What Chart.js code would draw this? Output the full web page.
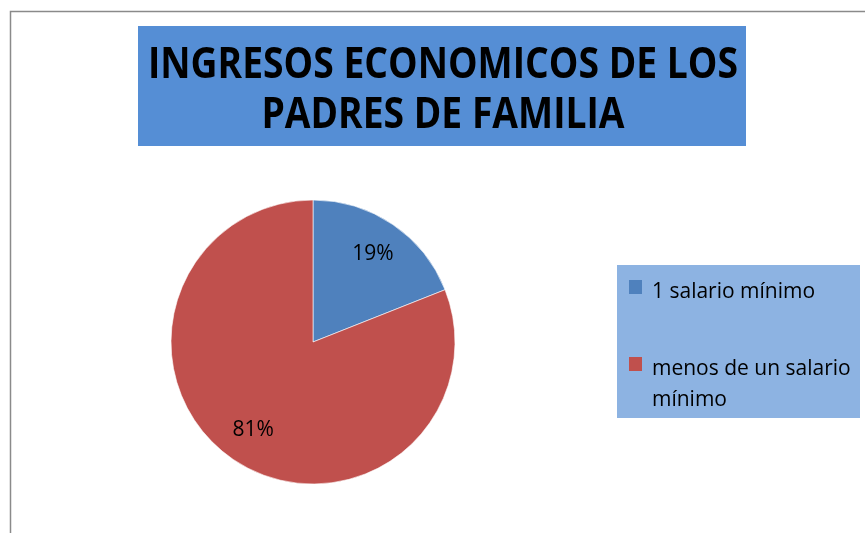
<!DOCTYPE html>
<html lang="es">
<head>
<meta charset="utf-8">
<title>Ingresos económicos de los padres de familia</title>
<script src="https://cdn.jsdelivr.net/npm/chart.js@4.4.1/dist/chart.umd.min.js"></script>
<style>
  html, body { margin: 0; padding: 0; background: #fff; }
  #wrap { width: 865px; height: 533px; }
</style>
</head>
<body>
<div id="wrap"><canvas id="ingresosChart" width="865" height="533"></canvas></div>
<script>
// Datos del gráfico
const categorias = ['1 salario mínimo', 'menos de un salario mínimo'];
const porcentajes = [19, 81];
const colores = ['#4F81BD', '#C0504D'];
const titulo = ['INGRESOS ECONOMICOS DE LOS', 'PADRES DE FAMILIA'];

const fuenteTexto = '"Open Sans", "Liberation Sans", sans-serif';

// Fondo blanco y marco gris (solo bordes izquierdo y superior visibles)
const marcoPlugin = {
    id: 'marco',
    beforeDraw(chart) {
        const ctx = chart.ctx;
        ctx.save();
        ctx.fillStyle = '#ffffff';
        ctx.fillRect(0, 0, chart.width, chart.height);
        ctx.strokeStyle = '#8a8a8a';
        ctx.lineWidth = 1.5;
        ctx.beginPath();
        ctx.moveTo(10.5, chart.height);
        ctx.lineTo(10.5, 11.5);
        ctx.lineTo(chart.width, 11.5);
        ctx.stroke();
        ctx.restore();
    }
};

// Título con recuadro azul (texto estrechado para parecerse a Calibri)
const tituloPlugin = {
    id: 'tituloCaja',
    afterDraw(chart) {
        const ctx = chart.ctx;
        ctx.save();
        ctx.fillStyle = '#558ED5';
        ctx.fillRect(138, 26, 608, 120);
        ctx.fillStyle = '#000000';
        ctx.font = 'bold 43px "Open Sans", "Liberation Sans", sans-serif';
        ctx.textAlign = 'center';
        ctx.textBaseline = 'alphabetic';
        const escala = 590 / ctx.measureText(titulo[0]).width;
        titulo.forEach((linea, i) => {
            ctx.save();
            ctx.translate(443, 78 + i * 50);
            ctx.scale(escala, 1);
            ctx.fillText(linea, 0, 0);
            ctx.restore();
        });
        ctx.restore();
    }
};

// Porcentajes dentro de cada sector
const etiquetasPlugin = {
    id: 'etiquetas',
    afterDatasetsDraw(chart) {
        const ctx = chart.ctx;
        const meta = chart.getDatasetMeta(0);
        ctx.save();
        ctx.fillStyle = '#000000';
        ctx.font = '21px ' + fuenteTexto;
        ctx.textAlign = 'center';
        ctx.textBaseline = 'middle';
        meta.data.forEach((arco, i) => {
            const p = arco.getProps(['x', 'y', 'startAngle', 'endAngle', 'outerRadius'], true);
            const medio = (p.startAngle + p.endAngle) / 2;
            const d = p.outerRadius * 0.75;
            ctx.fillText(porcentajes[i] + '%', p.x + Math.cos(medio) * d, p.y + Math.sin(medio) * d);
        });
        ctx.restore();
    }
};

// Leyenda con fondo azul claro
const leyendaPlugin = {
    id: 'leyendaCaja',
    afterDraw(chart) {
        const ctx = chart.ctx;
        ctx.save();
        ctx.fillStyle = '#8DB3E2';
        ctx.fillRect(617, 265, 243, 153);
        ctx.font = '21px ' + fuenteTexto;
        ctx.textBaseline = 'alphabetic';
        const anchoMax = 205;
        let base = 298;
        categorias.forEach((cat, i) => {
            ctx.fillStyle = colores[i];
            ctx.fillRect(629, base - 18, 13, 14);
            // partir el texto en líneas
            const palabras = cat.split(' ');
            const lineas = [];
            let actual = '';
            palabras.forEach(pal => {
                const prueba = actual ? actual + ' ' + pal : pal;
                if (ctx.measureText(prueba).width > anchoMax && actual) {
                    lineas.push(actual);
                    actual = pal;
                } else {
                    actual = prueba;
                }
            });
            lineas.push(actual);
            ctx.fillStyle = '#000000';
            lineas.forEach((l, j) => ctx.fillText(l, 652, base + j * 31));
            base += 77;
        });
        ctx.restore();
    }
};

const ctx = document.getElementById('ingresosChart');
new Chart(ctx, {
    type: 'pie',
    data: {
        labels: categorias,
        datasets: [{
            data: porcentajes,
            backgroundColor: colores,
            borderColor: 'rgba(255, 255, 255, 0.6)',
            borderWidth: 1,
            radius: 142
        }]
    },
    options: {
        responsive: false,
        animation: false,
        layout: {
            padding: { left: 20, right: 259, top: 190, bottom: 39 }
        },
        plugins: {
            legend: { display: false },
            title: { display: false },
            tooltip: { enabled: false }
        }
    },
    plugins: [marcoPlugin, tituloPlugin, etiquetasPlugin, leyendaPlugin]
});
</script>
</body>
</html>
